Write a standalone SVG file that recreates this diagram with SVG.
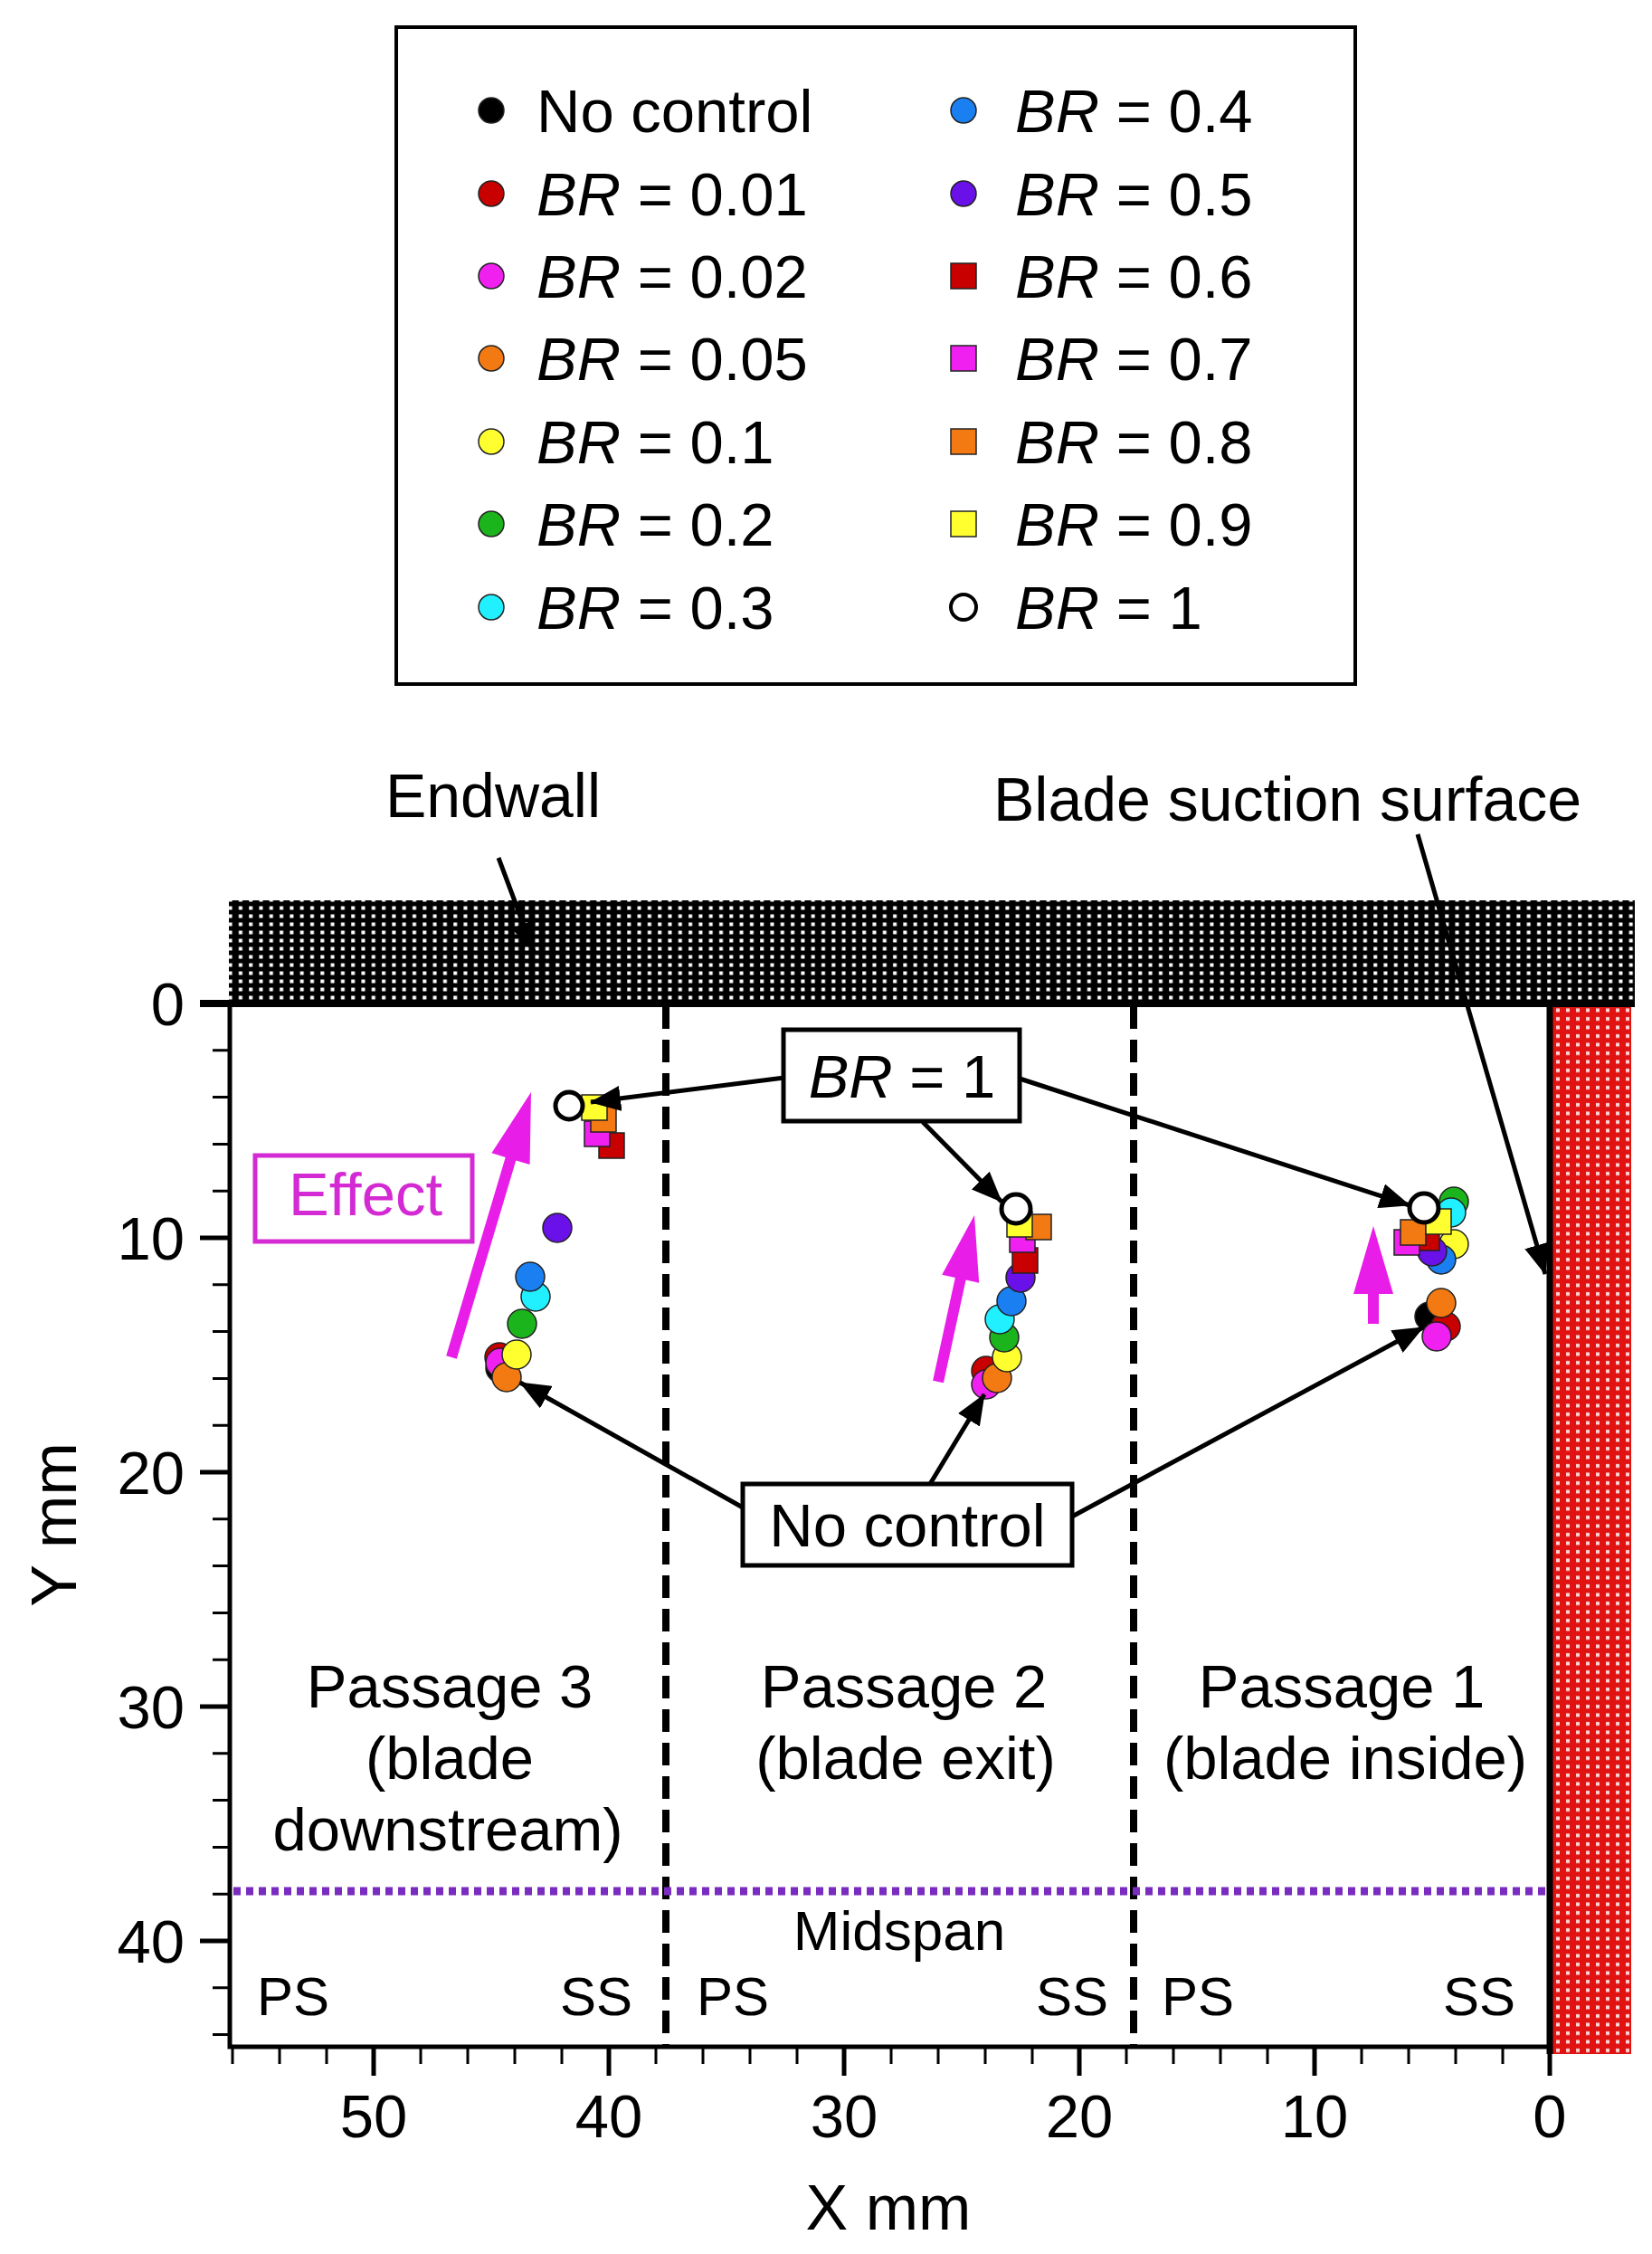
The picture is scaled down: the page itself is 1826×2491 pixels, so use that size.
<svg xmlns="http://www.w3.org/2000/svg" width="1826" height="2491" viewBox="0 0 1826 2491">
<defs>
<style>
.t{font-family:"Liberation Sans",Arial,sans-serif;font-size:67px;fill:#000}
.m{text-anchor:middle}
.e{text-anchor:end}
.i{font-style:italic}
.ax{stroke:#000;stroke-width:5;fill:none}
.tk{stroke:#000;stroke-width:3;fill:none}
.tkM{stroke:#000;stroke-width:5;fill:none}
.box{fill:#fff;stroke:#000;stroke-width:5}
.con{stroke:#000;stroke-width:5;fill:none;marker-end:url(#ah)}
.mg{fill:#e81ee8}
.p{stroke:#222;stroke-width:1.5}
.k0{fill:#000}
.k1{fill:#c80000}
.k2{fill:#f020f0}
.k3{fill:#f37a12}
.k4{fill:#ffff30}
.k5{fill:#1cb41c}
.k6{fill:#20f0ff}
.k7{fill:#1a7ff0}
.k8{fill:#6a10e8}
.op{fill:#fff;stroke:#000;stroke-width:5}
</style>
<marker id="ah" markerUnits="userSpaceOnUse" markerWidth="34" markerHeight="28" viewBox="0 0 34 28" refX="33" refY="14" orient="auto">
<path d="M0,0 L34,14 L0,28 z" fill="#000"/>
</marker>
<pattern id="hatch" width="11.3" height="9" patternUnits="userSpaceOnUse">
<rect width="11.3" height="9" fill="#000"/>
<rect x="4" y="2.5" width="4" height="4" fill="#fff"/>
</pattern>
<pattern id="redh" width="11" height="9.5" patternUnits="userSpaceOnUse">
<rect width="11" height="9.5" fill="#e01212"/>
<rect x="4" y="3" width="4" height="4" fill="#ffd6d6"/>
</pattern>
</defs>
<rect width="1826" height="2491" fill="#fff"/>

<g id="legend">
<rect x="438" y="30" width="1060" height="726" fill="#fff" stroke="#000" stroke-width="4"/>
<circle class="k0 p" cx="543" cy="122" r="14"/>
<text class="t" x="593" y="146">No control</text>
<circle class="k1 p" cx="543" cy="214" r="14"/>
<text class="t" x="593" y="238"><tspan class="i">BR</tspan> = 0.01</text>
<circle class="k2 p" cx="543" cy="305" r="14"/>
<text class="t" x="593" y="329"><tspan class="i">BR</tspan> = 0.02</text>
<circle class="k3 p" cx="543" cy="396" r="14"/>
<text class="t" x="593" y="420"><tspan class="i">BR</tspan> = 0.05</text>
<circle class="k4 p" cx="543" cy="488" r="14"/>
<text class="t" x="593" y="512"><tspan class="i">BR</tspan> = 0.1</text>
<circle class="k5 p" cx="543" cy="579" r="14"/>
<text class="t" x="593" y="603"><tspan class="i">BR</tspan> = 0.2</text>
<circle class="k6 p" cx="543" cy="671" r="14"/>
<text class="t" x="593" y="695"><tspan class="i">BR</tspan> = 0.3</text>
<circle class="k7 p" cx="1065" cy="122" r="14"/>
<text class="t" x="1122" y="146"><tspan class="i">BR</tspan> = 0.4</text>
<circle class="k8 p" cx="1065" cy="214" r="14"/>
<text class="t" x="1122" y="238"><tspan class="i">BR</tspan> = 0.5</text>
<rect class="k1 p" x="1051" y="291" width="28" height="28"/>
<text class="t" x="1122" y="329"><tspan class="i">BR</tspan> = 0.6</text>
<rect class="k2 p" x="1051" y="382" width="28" height="28"/>
<text class="t" x="1122" y="420"><tspan class="i">BR</tspan> = 0.7</text>
<rect class="k3 p" x="1051" y="474" width="28" height="28"/>
<text class="t" x="1122" y="512"><tspan class="i">BR</tspan> = 0.8</text>
<rect class="k4 p" x="1051" y="565" width="28" height="28"/>
<text class="t" x="1122" y="603"><tspan class="i">BR</tspan> = 0.9</text>
<circle cx="1065" cy="671" r="14" fill="#fff" stroke="#000" stroke-width="4"/>
<text class="t" x="1122" y="695"><tspan class="i">BR</tspan> = 1</text>
</g>

<g id="walls">
<rect x="253" y="995" width="1554" height="114" fill="url(#hatch)"/>
<rect x="1713" y="1109" width="90" height="1161" fill="url(#redh)"/>
</g>

<g id="axes">
<path class="ax" d="M254,1109 V2262 H1713"/>
<path d="M221,1109 H1807" stroke="#000" stroke-width="8"/>
<path d="M1713,1109 V2270" stroke="#000" stroke-width="7"/>
<path class="tkM" d="M221,1109 H254 M221,1368 H254 M221,1627 H254 M221,1886 H254 M221,2145 H254"/>
<path class="tk" d="M235,1160.8 H254 M235,1212.6 H254 M235,1264.4 H254 M235,1316.2 H254 M235,1419.8 H254 M235,1471.6 H254 M235,1523.4 H254 M235,1575.2 H254 M235,1678.8 H254 M235,1730.6 H254 M235,1782.4 H254 M235,1834.2 H254 M235,1937.8 H254 M235,1989.6 H254 M235,2041.4 H254 M235,2093.2 H254 M235,2196.8 H254 M235,2248.6 H254"/>
<path class="tkM" d="M413,2262 V2294 M673,2262 V2294 M933,2262 V2294 M1193,2262 V2294 M1453,2262 V2294 M1713,2262 V2294"/>
<path class="tk" d="M1661,2262 V2281 M1609,2262 V2281 M1557,2262 V2281 M1505,2262 V2281 M1401,2262 V2281 M1349,2262 V2281 M1297,2262 V2281 M1245,2262 V2281 M1141,2262 V2281 M1089,2262 V2281 M1037,2262 V2281 M985,2262 V2281 M881,2262 V2281 M829,2262 V2281 M777,2262 V2281 M725,2262 V2281 M621,2262 V2281 M569,2262 V2281 M517,2262 V2281 M465,2262 V2281 M361,2262 V2281 M309,2262 V2281 M257,2262 V2281"/>
<text class="t e" x="204" y="1133">0</text>
<text class="t e" x="204" y="1392">10</text>
<text class="t e" x="204" y="1651">20</text>
<text class="t e" x="204" y="1910">30</text>
<text class="t e" x="204" y="2169">40</text>
<text class="t m" x="413" y="2362">50</text>
<text class="t m" x="673" y="2362">40</text>
<text class="t m" x="933" y="2362">30</text>
<text class="t m" x="1193" y="2362">20</text>
<text class="t m" x="1453" y="2362">10</text>
<text class="t m" x="1713" y="2362">0</text>
<text class="t m" x="982" y="2464" style="font-size:70px">X mm</text>
<text class="t m" transform="translate(84,1685) rotate(-90)" style="font-size:70px">Y mm</text>
</g>

<g id="dividers">
<path d="M736,1112 V2262 M1253,1112 V2262" stroke="#000" stroke-width="8" stroke-dasharray="25 12"/>
<path d="M258,2090 H1710" stroke="#7a2cc0" stroke-width="9" stroke-dasharray="8 6"/>
</g>

<g id="labels">
<text class="t m" x="545" y="903" style="font-size:68px">Endwall</text>
<text class="t m" x="1423" y="907" style="font-size:68px">Blade suction surface</text>
<text class="t m" x="497" y="1887">Passage 3</text>
<text class="t m" x="497" y="1966">(blade</text>
<text class="t m" x="495" y="2045">downstream)</text>
<text class="t m" x="999" y="1887">Passage 2</text>
<text class="t m" x="1001" y="1966">(blade exit)</text>
<text class="t m" x="1483" y="1887">Passage 1</text>
<text class="t m" x="1487" y="1966">(blade inside)</text>
<text class="t m" x="994" y="2155" style="font-size:62px">Midspan</text>
<text class="t" x="284" y="2227" style="font-size:60px">PS</text>
<text class="t e" x="699" y="2227" style="font-size:60px">SS</text>
<text class="t" x="770" y="2227" style="font-size:60px">PS</text>
<text class="t e" x="1225" y="2227" style="font-size:60px">SS</text>
<text class="t" x="1284" y="2227" style="font-size:60px">PS</text>
<text class="t e" x="1675" y="2227" style="font-size:60px">SS</text>
</g>

<g id="effect">
<rect x="282" y="1277" width="240" height="95" fill="#fff" stroke="#d42ad4" stroke-width="5"/>
<text class="t" x="319" y="1343" style="fill:#d42ad4">Effect</text>
<path class="mg" d="M493.2,1498.3 L504.8,1501.7 L570.3,1282.5 L585.6,1287.1 L587,1207 L543.4,1274.3 L558.7,1278.9 z"/>
<path class="mg" d="M1031.1,1525.7 L1042.9,1528.3 L1067.6,1414.6 L1082.2,1417.8 L1077,1343 L1041.2,1408.8 L1055.8,1412 z"/>
<path class="mg" d="M1512,1463 L1524,1463 L1524,1430 L1540,1430 L1518,1355 L1496,1430 L1512,1430 z"/>
</g>

<g id="passage3-points">
<circle class="k0 p" cx="553" cy="1512" r="16"/>
<circle class="k1 p" cx="552" cy="1500" r="16"/>
<circle class="k2 p" cx="553" cy="1506" r="16"/>
<circle class="k3 p" cx="560" cy="1522" r="16"/>
<circle class="k4 p" cx="571" cy="1497" r="16"/>
<circle class="k5 p" cx="577" cy="1463" r="16"/>
<circle class="k6 p" cx="592" cy="1433" r="16"/>
<circle class="k7 p" cx="586" cy="1411" r="16"/>
<circle class="k8 p" cx="616" cy="1357" r="16"/>
<rect class="k1 p" x="662" y="1252" width="28" height="28"/>
<rect class="k2 p" x="646" y="1239" width="28" height="28"/>
<rect class="k3 p" x="653" y="1223" width="28" height="28"/>
<rect class="k4 p" x="643" y="1210" width="28" height="28"/>
<circle class="op" cx="629" cy="1222" r="15"/>
</g>

<g id="passage2-points">
<circle class="k0 p" cx="1092" cy="1520" r="16"/>
<circle class="k1 p" cx="1090" cy="1515" r="16"/>
<circle class="k2 p" cx="1090" cy="1530" r="16"/>
<circle class="k3 p" cx="1102" cy="1523" r="16"/>
<circle class="k4 p" cx="1113" cy="1500" r="16"/>
<circle class="k5 p" cx="1110" cy="1478" r="16"/>
<circle class="k6 p" cx="1105" cy="1458" r="16"/>
<circle class="k7 p" cx="1118" cy="1438" r="16"/>
<circle class="k8 p" cx="1128" cy="1412" r="16"/>
<rect class="k1 p" x="1119" y="1379" width="28" height="28"/>
<rect class="k2 p" x="1116" y="1356" width="28" height="28"/>
<rect class="k3 p" x="1134" y="1342" width="28" height="28"/>
<rect class="k4 p" x="1113" y="1339" width="28" height="28"/>
<circle class="op" cx="1123" cy="1336" r="16"/>
</g>

<g id="passage1-points">
<circle class="k0 p" cx="1580" cy="1455" r="16"/>
<circle class="k1 p" cx="1598" cy="1466" r="16"/>
<circle class="k2 p" cx="1588" cy="1477" r="16"/>
<circle class="k3 p" cx="1593" cy="1440" r="16"/>
<circle class="k4 p" cx="1607" cy="1375" r="16"/>
<circle class="k5 p" cx="1607" cy="1328" r="16"/>
<circle class="k6 p" cx="1604" cy="1340" r="16"/>
<circle class="k7 p" cx="1593" cy="1392" r="16"/>
<circle class="k8 p" cx="1583" cy="1383" r="16"/>
<rect class="k1 p" x="1563" y="1354" width="28" height="28"/>
<rect class="k2 p" x="1541" y="1359" width="28" height="28"/>
<rect class="k3 p" x="1548" y="1348" width="28" height="28"/>
<rect class="k4 p" x="1576" y="1336" width="28" height="28"/>
<circle class="op" cx="1574" cy="1335" r="16"/>
</g>

<g id="connectors">
<path class="con" d="M551,948 L590,1052"/>
<path class="con" d="M1567,922 L1708,1408"/>
<path class="con" d="M867,1191 L653,1218"/>
<path class="con" d="M1020,1240 L1107,1328"/>
<path class="con" d="M1127,1192 L1558,1332"/>
<path class="con" d="M821,1666 L575,1528"/>
<path class="con" d="M1028,1640 L1088,1541"/>
<path class="con" d="M1185,1676 L1573,1467"/>
</g>

<g id="box-br1">
<rect class="box" x="866" y="1138" width="261" height="101"/>
<text class="t m" x="997" y="1213"><tspan class="i">BR</tspan> = 1</text>
</g>
<g id="box-nocontrol">
<rect class="box" x="821" y="1640" width="364" height="90"/>
<text class="t m" x="1003" y="1709">No control</text>
</g>
</svg>
